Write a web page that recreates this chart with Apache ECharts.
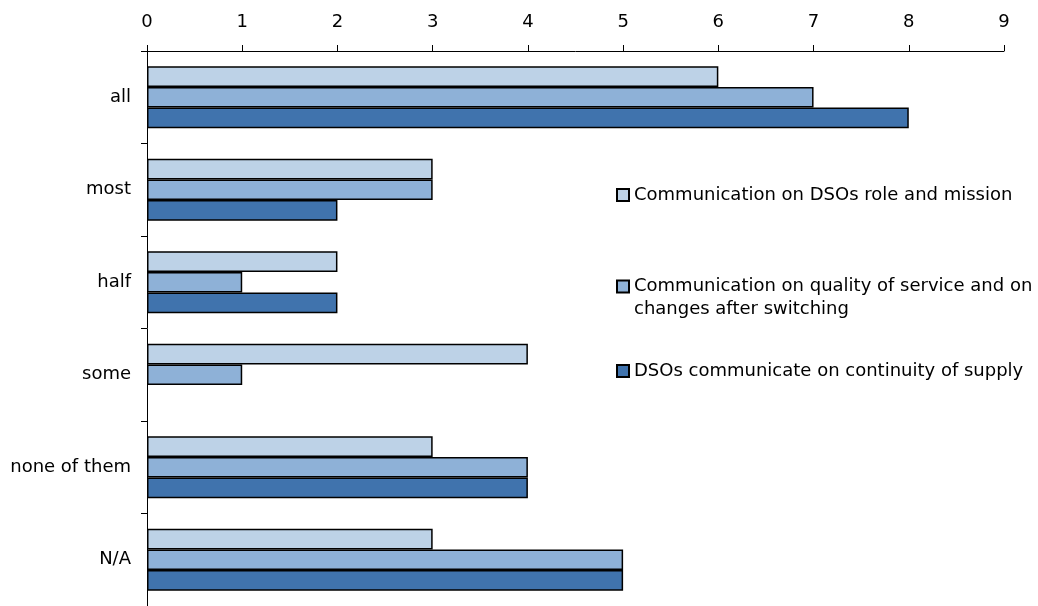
<!DOCTYPE html>
<html>
<head>
<meta charset="utf-8">
<script src="https://cdn.jsdelivr.net/npm/echarts@6/dist/echarts.min.js"></script>
<style>
  html, body { margin: 0; padding: 0; background: #fff; }
  #chart { width: 1038px; height: 606px; }
</style>
</head>
<body>
<div id="chart"></div>
<script>
// Share of DSOs answering each communication question
const categories = ['all', 'most', 'half', 'some', 'none of them', 'N/A'];
const seriesNames = [
  'Communication on DSOs role and mission',
  'Communication on quality of service and on changes after switching',
  'DSOs communicate on continuity of supply'
];
const roleMission = [6, 3, 2, 4, 3, 3];
const qualityService = [7, 3, 1, 1, 4, 5];
const continuitySupply = [8, 2, 2, null, 4, 5];
const xTicks = [0, 9, 1]; // min, max, interval

const colors = ['#bdd2e7', '#8eb1d7', '#4073ad'];
const FONT = '"DejaVu Sans", sans-serif';
const FS = 18;

const chart = echarts.init(document.getElementById('chart'), null, { renderer: 'canvas' });

const values = [roleMission, qualityService, continuitySupply];

function legendAt(idx, top, text, lineHeight) {
  return {
    orient: 'vertical',
    left: 616,
    top: top,
    padding: 0,
    icon: 'rect',
    itemWidth: 12,
    itemHeight: 12,
    selectedMode: false,
    data: [seriesNames[idx]],
    formatter: function () { return text; },
    textStyle: { fontFamily: FONT, fontSize: FS, color: '#000', lineHeight: lineHeight || 22 }
  };
}

// the wrapped entry gets an empty leading line so its first line sits beside the swatch
chart.setOption({
  animation: false,
  backgroundColor: '#fff',
  grid: { left: 147, right: 34, top: 51, bottom: 0, containLabel: false },
  legend: [
    legendAt(0, 184, seriesNames[0]),
    legendAt(1, 252, '\nCommunication on quality of service and on\nchanges after switching', 23),
    legendAt(2, 360, seriesNames[2])
  ],
  xAxis: {
    type: 'value',
    position: 'top',
    min: xTicks[0],
    max: xTicks[1],
    interval: xTicks[2],
    axisLine: { show: true, lineStyle: { color: '#000', width: 1 } },
    axisTick: { show: true, length: 6, lineStyle: { color: '#000' } },
    splitLine: { show: false },
    axisLabel: { fontFamily: FONT, fontSize: FS, color: '#000', margin: 20 }
  },
  yAxis: {
    type: 'category',
    inverse: true,
    data: categories,
    axisLine: { show: true, lineStyle: { color: '#000', width: 1 } },
    axisTick: { show: true, length: 6, lineStyle: { color: '#000' } },
    axisLabel: { fontFamily: FONT, fontSize: FS, color: '#000', margin: 16 }
  },
  series: values.map(function (vals, i) {
    return {
      name: seriesNames[i],
      type: 'bar',
      data: vals,
      barGap: '0%',
      barCategoryGap: '33%',
      itemStyle: { color: colors[i], borderColor: '#000', borderWidth: 1.5 }
    };
  })
});
</script>
</body>
</html>
